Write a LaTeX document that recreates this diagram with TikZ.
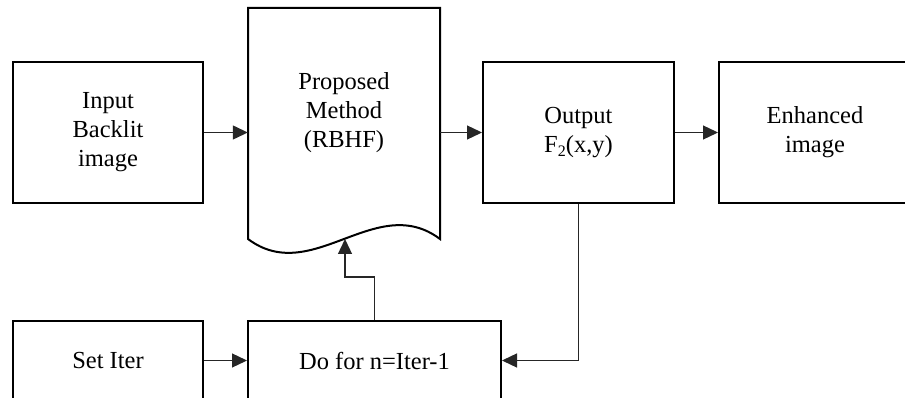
\documentclass[tikz,border=0pt]{standalone}
\usepackage{fontspec}
\setmainfont{Liberation Serif}
\usetikzlibrary{arrows.meta}
\begin{document}
\begin{tikzpicture}[x=1pt,y=-1pt,
  box/.style={draw=black, line width=2pt, align=center, inner sep=0pt,
    font=\fontsize{24.5}{29}\selectfont},
  label/.style={align=center, inner sep=0pt, font=\fontsize{24.5}{29}\selectfont},
  conn/.style={draw=black!85, line width=1.3pt, -{Triangle[length=15pt,width=14pt]}},
  wire/.style={draw=black!85, line width=1.3pt}]
\useasboundingbox (0,0) rectangle (905,398);
\clip (0,0) rectangle (905,398);

% top row
\node[box, minimum width=190, minimum height=141] (in) at (108,132.5)
  {Input\\Backlit\\image};
\node[box, minimum width=191, minimum height=141] (out) at (578.5,132.5)
  {Output\\F\raisebox{-0.35ex}{\fontsize{16}{16}\selectfont 2}(x,y)};
\node[box, minimum width=192, minimum height=141] (enh) at (815,132.5)
  {Enhanced\\image};

% document shape with wavy bottom
\node[minimum width=192, minimum height=231, inner sep=0pt] (doc) at (344,123.5) {};
\draw[line width=2pt, line join=miter]
  (248,239) -- (248,8) -- (440,8) -- (440,239)
  .. controls (376,191) and (312,287) .. (248,239) -- cycle;
\node[label] (doctext) at (344,113) {Proposed\\Method\\(RBHF)};
\coordinate (wave) at (345,239);

% bottom row
\node[box, minimum width=190, minimum height=79] (set) at (108,360.5) {Set Iter};
\node[box, minimum width=253, minimum height=79] (do) at (374.5,360.5) {Do for n=Iter-1};

% connectors
\draw[conn] (in.east) -- (in.east -| doc.west);
\draw[conn] (doc.east |- out.west) -- (out.west);
\draw[conn] (out.east) -- (enh.west);
\draw[conn] (set.east) -- (set.east -| do.west);
\draw[conn] (out.south) |- (do.east);
\coordinate (bend) at (374.5,277);
\draw[conn] (do.north) -- (bend) -| (wave);
\end{tikzpicture}
\end{document}
